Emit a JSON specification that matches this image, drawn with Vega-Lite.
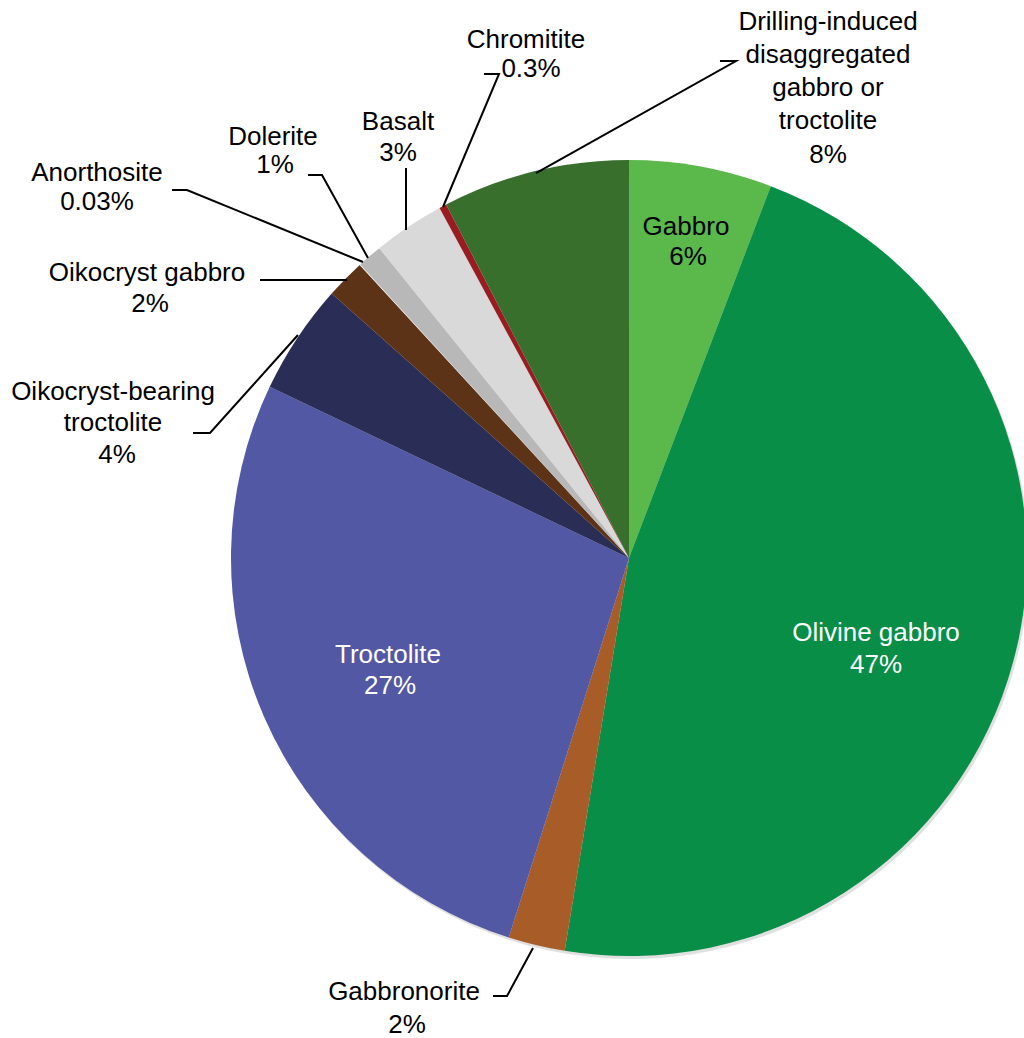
{
  "$schema": "https://vega.github.io/schema/vega-lite/v6.json",
  "width": 1024,
  "height": 1038,
  "autosize": "none",
  "padding": 0,
  "background": "white",
  "config": {"view": {"stroke": null}},
  "datasets": {
    "slices": [
      {"rock": "Gabbro", "rank": 1, "share": 5.8},
      {"rock": "Olivine gabbro", "rank": 2, "share": 46.8},
      {"rock": "Gabbronorite", "rank": 3, "share": 2.3},
      {"rock": "Troctolite", "rank": 4, "share": 27.2},
      {"rock": "Oikocryst-bearing troctolite", "rank": 5, "share": 4.5},
      {"rock": "Oikocryst gabbro", "rank": 6, "share": 1.6},
      {"rock": "Anorthosite", "rank": 7, "share": 0.03},
      {"rock": "Dolerite", "rank": 8, "share": 1.0},
      {"rock": "Basalt", "rank": 9, "share": 2.9},
      {"rock": "Chromitite", "rank": 10, "share": 0.3},
      {"rock": "Drilling-induced disaggregated gabbro or troctolite", "rank": 11, "share": 7.6}
    ],
    "labels": [
      {"rock": "Gabbro", "line": "Gabbro", "x": 0.1432, "y": 0.8317},
      {"rock": "Gabbro", "line": "6%", "x": 0.1482, "y": 0.7563},
      {"rock": "Olivine gabbro", "line": "Olivine gabbro", "x": 0.6206, "y": -0.1884},
      {"rock": "Olivine gabbro", "line": "47%", "x": 0.6206, "y": -0.2688},
      {"rock": "Troctolite", "line": "Troctolite", "x": -0.6055, "y": -0.2437},
      {"rock": "Troctolite", "line": "27%", "x": -0.6005, "y": -0.3216},
      {"rock": "Gabbronorite", "line": "Gabbronorite", "x": -0.5653, "y": -1.0905},
      {"rock": "Gabbronorite", "line": "2%", "x": -0.5578, "y": -1.1734},
      {"rock": "Oikocryst-bearing troctolite", "line": "Oikocryst-bearing", "x": -1.2965, "y": 0.4171},
      {"rock": "Oikocryst-bearing troctolite", "line": "troctolite", "x": -1.2965, "y": 0.3392},
      {"rock": "Oikocryst-bearing troctolite", "line": "4%", "x": -1.2864, "y": 0.2588},
      {"rock": "Oikocryst gabbro", "line": "Oikocryst gabbro", "x": -1.2111, "y": 0.7161},
      {"rock": "Oikocryst gabbro", "line": "2%", "x": -1.2035, "y": 0.6382},
      {"rock": "Anorthosite", "line": "Anorthosite", "x": -1.3367, "y": 0.9673},
      {"rock": "Anorthosite", "line": "0.03%", "x": -1.3367, "y": 0.8945},
      {"rock": "Dolerite", "line": "Dolerite", "x": -0.8945, "y": 1.0578},
      {"rock": "Dolerite", "line": "1%", "x": -0.8894, "y": 0.9874},
      {"rock": "Basalt", "line": "Basalt", "x": -0.5804, "y": 1.0955},
      {"rock": "Basalt", "line": "3%", "x": -0.5804, "y": 1.0176},
      {"rock": "Chromitite", "line": "Chromitite", "x": -0.2588, "y": 1.3015},
      {"rock": "Chromitite", "line": "0.3%", "x": -0.2462, "y": 1.2286},
      {"rock": "Drilling-induced disaggregated gabbro or troctolite", "line": "Drilling-induced", "x": 0.5, "y": 1.3467},
      {"rock": "Drilling-induced disaggregated gabbro or troctolite", "line": "disaggregated", "x": 0.5, "y": 1.2638},
      {"rock": "Drilling-induced disaggregated gabbro or troctolite", "line": "gabbro or", "x": 0.5, "y": 1.1809},
      {"rock": "Drilling-induced disaggregated gabbro or troctolite", "line": "troctolite", "x": 0.5, "y": 1.098},
      {"rock": "Drilling-induced disaggregated gabbro or troctolite", "line": "8%", "x": 0.5, "y": 1.0126}
    ],
    "leaders": [
      {"rock": "Gabbronorite", "step": 1, "x": -0.3417, "y": -1.1005},
      {"rock": "Gabbronorite", "step": 2, "x": -0.3065, "y": -1.1005},
      {"rock": "Gabbronorite", "step": 3, "x": -0.2412, "y": -0.9799},
      {"rock": "Oikocryst-bearing troctolite", "step": 1, "x": -1.0955, "y": 0.3141},
      {"rock": "Oikocryst-bearing troctolite", "step": 2, "x": -1.0528, "y": 0.3141},
      {"rock": "Oikocryst-bearing troctolite", "step": 3, "x": -0.8317, "y": 0.5603},
      {"rock": "Oikocryst gabbro", "step": 1, "x": -0.9271, "y": 0.6985},
      {"rock": "Oikocryst gabbro", "step": 2, "x": -0.7085, "y": 0.6985},
      {"rock": "Anorthosite", "step": 1, "x": -1.1482, "y": 0.9246},
      {"rock": "Anorthosite", "step": 2, "x": -1.1106, "y": 0.9246},
      {"rock": "Anorthosite", "step": 3, "x": -0.6683, "y": 0.7437},
      {"rock": "Dolerite", "step": 1, "x": -0.8065, "y": 0.9623},
      {"rock": "Dolerite", "step": 2, "x": -0.7714, "y": 0.9623},
      {"rock": "Dolerite", "step": 3, "x": -0.6558, "y": 0.7538},
      {"rock": "Basalt", "step": 1, "x": -0.5603, "y": 0.9799},
      {"rock": "Basalt", "step": 2, "x": -0.5603, "y": 0.8241},
      {"rock": "Chromitite", "step": 1, "x": -0.3643, "y": 1.2161},
      {"rock": "Chromitite", "step": 2, "x": -0.3266, "y": 1.2161},
      {"rock": "Chromitite", "step": 3, "x": -0.4673, "y": 0.8819},
      {"rock": "Drilling-induced disaggregated gabbro or troctolite", "step": 1, "x": 0.2286, "y": 1.2487},
      {"rock": "Drilling-induced disaggregated gabbro or troctolite", "step": 2, "x": 0.2688, "y": 1.2487},
      {"rock": "Drilling-induced disaggregated gabbro or troctolite", "step": 3, "x": -0.2337, "y": 0.9673}
    ]
  },
  "layer": [
    {
      "data": {"name": "slices"},
      "mark": {"type": "arc", "outerRadius": 398, "fill": "#000000", "opacity": 0.12, "xOffset": 2, "yOffset": 3},
      "encoding": {
        "theta": {"field": "share", "type": "quantitative", "stack": true},
        "order": {"field": "rank", "type": "quantitative"},
        "x": {"datum": 0, "type": "quantitative", "scale": {"domain": [-1.5804, 0.9925], "nice": false, "zero": false}, "axis": null},
        "y": {"datum": 0, "type": "quantitative", "scale": {"domain": [-1.206, 1.402], "nice": false, "zero": false}, "axis": null}
      }
    },
    {
      "data": {"name": "slices"},
      "mark": {"type": "arc", "outerRadius": 398},
      "encoding": {
        "theta": {"field": "share", "type": "quantitative", "stack": true},
        "order": {"field": "rank", "type": "quantitative"},
        "color": {
          "field": "rock",
          "type": "nominal",
          "legend": null,
          "scale": {
            "domain": ["Gabbro", "Olivine gabbro", "Gabbronorite", "Troctolite", "Oikocryst-bearing troctolite", "Oikocryst gabbro", "Anorthosite", "Dolerite", "Basalt", "Chromitite", "Drilling-induced disaggregated gabbro or troctolite"],
            "range": ["#5bb84b", "#088e47", "#a85c28", "#5358a4", "#2a2d55", "#5c3317", "#f2f2f2", "#b8b8b8", "#d9d9d9", "#9a1c20", "#386f2d"]
          }
        },
        "x": {"datum": 0, "type": "quantitative"},
        "y": {"datum": 0, "type": "quantitative"}
      }
    },
    {
      "data": {"name": "leaders"},
      "mark": {"type": "line", "color": "black", "strokeWidth": 2},
      "encoding": {
        "x": {"field": "x", "type": "quantitative"},
        "y": {"field": "y", "type": "quantitative"},
        "detail": {"field": "rock", "type": "nominal"},
        "order": {"field": "step", "type": "quantitative"}
      }
    },
    {
      "data": {"name": "labels"},
      "mark": {"type": "text", "font": "Liberation Sans", "fontSize": 26, "align": "center", "baseline": "middle"},
      "encoding": {
        "x": {"field": "x", "type": "quantitative"},
        "y": {"field": "y", "type": "quantitative"},
        "text": {"field": "line", "type": "nominal"},
        "color": {
          "condition": {"test": "datum.rock === 'Olivine gabbro' || datum.rock === 'Troctolite'", "value": "white"},
          "value": "black"
        }
      }
    }
  ]
}
